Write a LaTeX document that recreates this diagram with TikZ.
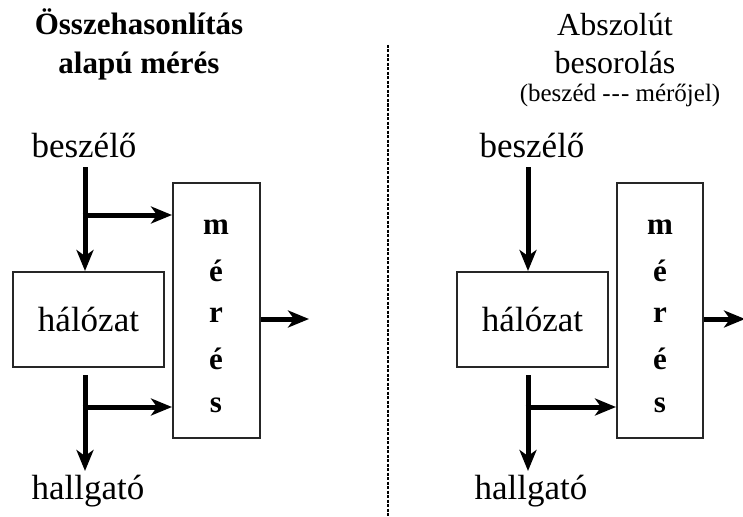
\documentclass[tikz,border=0pt]{standalone}
\usepackage{fontspec}
\setmainfont{Liberation Serif}
\usetikzlibrary{arrows.meta}
\tikzset{
  blk/.style={draw=black!85, line width=2pt, inner sep=0pt},
  flow/.style={line width=5pt, -{Stealth[length=21pt,width=17pt,inset=6pt]}},
  lbl/.style={font=\fontsize{35}{40}\selectfont, inner sep=0pt},
  ttl/.style={font=\fontsize{31}{39}\selectfont\bfseries, align=center, inner sep=0pt},
  ltr/.style={font=\fontsize{31}{36}\selectfont\bfseries, inner sep=0pt}
}
\begin{document}
\begin{tikzpicture}[x=1pt,y=-1pt]
\useasboundingbox (0,0) rectangle (743,516);

% separator
\draw[line width=1.3pt, dash pattern=on 3pt off 1.5pt] (388,45) -- (388,516);

% ---------- left: comparison based measurement ----------
\node[ttl] (t1) at (139,44) {Összehasonlítás\\alapú mérés};
\node[lbl] (spk1) at (84,146) {beszélő};
\node[blk, minimum width=151pt, minimum height=95pt] (net1) at (88.5,319.5) {};
\node[lbl] at (net1.center) {hálózat};
\node[blk, minimum width=87pt, minimum height=255pt] (mes1) at (216.5,310.5) {};
\node[ltr] at (216,227) {m};
\node[ltr] at (216,271) {é};
\node[ltr] at (216,315) {r};
\node[ltr] at (216,359) {é};
\node[ltr] at (216,405) {s};
\node[lbl] (lst1) at (88,491) {hallgató};

\coordinate (a1) at (85,167);
\coordinate (b1) at (85,215);
\coordinate (c1) at (85,375);
\coordinate (d1) at (85,407);
\coordinate (e1) at (85,471);
\coordinate (o1) at (309,319);
\draw[flow] (a1) -- (net1.north -| a1);
\draw[flow] ([xshift=-2.5pt]b1) -- (b1 -| mes1.west);
\draw[flow] (c1) -- (e1);
\draw[flow] ([xshift=-2.5pt]d1) -- (d1 -| mes1.west);
\draw[flow] (mes1.east |- o1) -- (o1);

% ---------- right: absolute classification ----------
\node[font=\fontsize{32}{38}\selectfont, align=center, inner sep=0pt] (t2) at (615,44) {Abszolút\\besorolás};
\node[font=\fontsize{25}{28}\selectfont, inner sep=0pt] (t3) at (620,95) {(beszéd -\kern1pt-\kern1pt- mérőjel)};
\node[lbl] (spk2) at (532,146) {beszélő};
\node[blk, minimum width=151pt, minimum height=95pt] (net2) at (532.5,319.5) {};
\node[lbl] at (net2.center) {hálózat};
\node[blk, minimum width=86pt, minimum height=255pt] (mes2) at (660,310.5) {};
\node[ltr] at (660,227) {m};
\node[ltr] at (660,271) {é};
\node[ltr] at (660,315) {r};
\node[ltr] at (660,359) {é};
\node[ltr] at (660,405) {s};
\node[lbl] (lst2) at (531,491) {hallgató};

\coordinate (a2) at (528,167);
\coordinate (c2) at (528,375);
\coordinate (d2) at (528,407);
\coordinate (e2) at (528,471);
\coordinate (o2) at (745,319);
\draw[flow] (a2) -- (net2.north -| a2);
\draw[flow] (c2) -- (e2);
\draw[flow] ([xshift=-2.5pt]d2) -- (d2 -| mes2.west);
\draw[flow] (mes2.east |- o2) -- (o2);
\end{tikzpicture}
\end{document}
